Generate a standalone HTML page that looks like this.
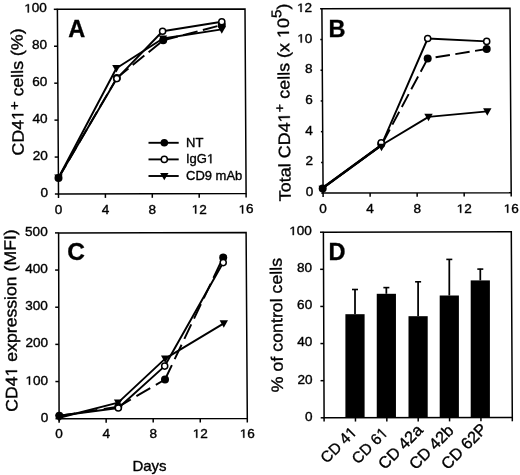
<!DOCTYPE html><html><head><meta charset="utf-8"><style>html,body{margin:0;padding:0;background:#fff;overflow:hidden;}svg{display:block;will-change:transform;}text{font-family:"Liberation Sans", sans-serif;fill:#000;stroke:#000;stroke-width:0.35px;}</style></head><body>
<svg width="520" height="475" viewBox="0 0 520 475">
<rect width="520" height="475" fill="#fff"/>
<polygon points="57.40,9.30 245.00,9.00 246.10,193.60 58.50,194.00" fill="none" stroke="#000" stroke-width="1.5" stroke-linejoin="miter"/>
<line x1="54.90" y1="194.00" x2="58.50" y2="194.00" stroke="#000" stroke-width="1.5"/>
<text transform="translate(48.00,197.10) scale(1.13,1)" text-anchor="end" font-size="12">0</text>
<line x1="54.68" y1="157.06" x2="58.28" y2="157.06" stroke="#000" stroke-width="1.5"/>
<text transform="translate(47.78,160.16) scale(1.13,1)" text-anchor="end" font-size="12">20</text>
<line x1="54.46" y1="120.12" x2="58.06" y2="120.12" stroke="#000" stroke-width="1.5"/>
<text transform="translate(47.56,123.22) scale(1.13,1)" text-anchor="end" font-size="12">40</text>
<line x1="54.24" y1="83.18" x2="57.84" y2="83.18" stroke="#000" stroke-width="1.5"/>
<text transform="translate(47.34,86.28) scale(1.13,1)" text-anchor="end" font-size="12">60</text>
<line x1="54.02" y1="46.24" x2="57.62" y2="46.24" stroke="#000" stroke-width="1.5"/>
<text transform="translate(47.12,49.34) scale(1.13,1)" text-anchor="end" font-size="12">80</text>
<line x1="53.80" y1="9.30" x2="57.40" y2="9.30" stroke="#000" stroke-width="1.5"/>
<text transform="translate(46.90,12.40) scale(1.13,1)" text-anchor="end" font-size="12">&#x2007;00</text><g transform="translate(46.90,12.40) scale(1.13,1)"><path transform="translate(-20.019,0.000) scale(0.005859,-0.005859)" d="M515,0L515,1237L197,1010L197,1180L530,1409L696,1409L696,0Z" stroke="#000" stroke-width="0.35" vector-effect="non-scaling-stroke"/></g>
<line x1="58.50" y1="194.00" x2="58.50" y2="198.00" stroke="#000" stroke-width="1.5"/>
<text transform="translate(58.50,213.80) scale(1.13,1)" text-anchor="middle" font-size="12">0</text>
<line x1="105.40" y1="193.90" x2="105.40" y2="197.90" stroke="#000" stroke-width="1.5"/>
<text transform="translate(105.40,213.70) scale(1.13,1)" text-anchor="middle" font-size="12">4</text>
<line x1="152.30" y1="193.80" x2="152.30" y2="197.80" stroke="#000" stroke-width="1.5"/>
<text transform="translate(152.30,213.60) scale(1.13,1)" text-anchor="middle" font-size="12">8</text>
<line x1="199.20" y1="193.70" x2="199.20" y2="197.70" stroke="#000" stroke-width="1.5"/>
<text transform="translate(199.20,213.50) scale(1.13,1)" text-anchor="middle" font-size="12">&#x2007;2</text><g transform="translate(199.20,213.50) scale(1.13,1)"><path transform="translate(-6.670,0.000) scale(0.005859,-0.005859)" d="M515,0L515,1237L197,1010L197,1180L530,1409L696,1409L696,0Z" stroke="#000" stroke-width="0.35" vector-effect="non-scaling-stroke"/></g>
<line x1="246.10" y1="193.60" x2="246.10" y2="197.60" stroke="#000" stroke-width="1.5"/>
<text transform="translate(246.10,213.40) scale(1.13,1)" text-anchor="middle" font-size="12">&#x2007;6</text><g transform="translate(246.10,213.40) scale(1.13,1)"><path transform="translate(-6.670,0.000) scale(0.005859,-0.005859)" d="M515,0L515,1237L197,1010L197,1180L530,1409L696,1409L696,0Z" stroke="#000" stroke-width="0.35" vector-effect="non-scaling-stroke"/></g>
<text x="68.2" y="36.6" font-size="23.5" font-weight="bold">A</text>
<text transform="translate(23.14,91.90) rotate(-90.6)" text-anchor="middle" font-size="16.5" textLength="127.0" lengthAdjust="spacingAndGlyphs">CD4&#x2007;<tspan dy="-4" font-size="14">+</tspan><tspan dy="4"> cells (%)</tspan></text><g transform="translate(23.14,91.90) rotate(-90.6)"><path transform="translate(-28.049,0.000) scale(0.008655,-0.008057)" d="M515,0L515,1237L197,1010L197,1180L530,1409L696,1409L696,0Z" stroke="#000" stroke-width="0.35" vector-effect="non-scaling-stroke"/></g>
<line x1="58.50" y1="177.90" x2="116.80" y2="78.00" stroke="#000" stroke-width="1.95" stroke-dasharray="15 5.5" stroke-dashoffset="0"/>
<line x1="116.80" y1="78.00" x2="163.20" y2="40.30" stroke="#000" stroke-width="1.95" stroke-dasharray="15 5.5" stroke-dashoffset="0"/>
<line x1="163.20" y1="40.30" x2="221.80" y2="25.00" stroke="#000" stroke-width="1.95" stroke-dasharray="15 5.5" stroke-dashoffset="0"/>
<polyline points="58.50,177.80 116.80,78.60 162.60,31.30 221.80,21.80" fill="none" stroke="#000" stroke-width="1.95" stroke-linejoin="round"/>
<polyline points="58.50,177.70 116.40,68.20 163.00,38.50 221.80,29.40" fill="none" stroke="#000" stroke-width="1.95" stroke-linejoin="round"/>
<path d="M54.30,174.59 L62.70,174.59 L58.50,181.99 Z" fill="#000"/>
<path d="M112.20,65.09 L120.60,65.09 L116.40,72.49 Z" fill="#000"/>
<path d="M158.80,35.39 L167.20,35.39 L163.00,42.79 Z" fill="#000"/>
<path d="M217.60,26.29 L226.00,26.29 L221.80,33.69 Z" fill="#000"/>
<circle cx="58.50" cy="177.90" r="4.0" fill="#000"/>
<circle cx="116.80" cy="78.00" r="4.0" fill="#000"/>
<circle cx="163.20" cy="40.30" r="4.0" fill="#000"/>
<circle cx="221.80" cy="25.00" r="4.0" fill="#000"/>
<circle cx="116.80" cy="78.60" r="3.05" fill="#fff" stroke="#000" stroke-width="1.5"/>
<circle cx="162.60" cy="31.30" r="3.05" fill="#fff" stroke="#000" stroke-width="1.5"/>
<circle cx="221.80" cy="21.80" r="3.05" fill="#fff" stroke="#000" stroke-width="1.5"/>
<line x1="148.5" y1="142.80" x2="178.7" y2="142.80" stroke="#000" stroke-width="1.9"/>
<circle cx="164.30" cy="142.80" r="3.8" fill="#000"/>
<text x="186" y="146.60" font-size="13">NT</text>
<line x1="148.5" y1="159.40" x2="178.7" y2="159.40" stroke="#000" stroke-width="1.9"/>
<circle cx="164.30" cy="159.40" r="3.05" fill="#fff" stroke="#000" stroke-width="1.5"/>
<text x="186" y="163.20" font-size="13">IgG&#x2007;</text><g><path transform="translate(206.953,163.200) scale(0.006348,-0.006348)" d="M515,0L515,1237L197,1010L197,1180L530,1409L696,1409L696,0Z" stroke="#000" stroke-width="0.35" vector-effect="non-scaling-stroke"/></g>
<line x1="148.5" y1="176.00" x2="178.7" y2="176.00" stroke="#000" stroke-width="1.9"/>
<path d="M160.10,172.89 L168.50,172.89 L164.30,180.29 Z" fill="#000"/>
<text x="186" y="179.80" font-size="13">CD9 mAb</text>
<polygon points="321.90,8.80 510.00,8.30 511.20,192.70 323.10,193.10" fill="none" stroke="#000" stroke-width="1.5" stroke-linejoin="miter"/>
<line x1="321.30" y1="193.10" x2="323.10" y2="193.10" stroke="#000" stroke-width="1.5"/>
<text transform="translate(313.30,196.20) scale(1.13,1)" text-anchor="end" font-size="12">0</text>
<line x1="321.10" y1="162.38" x2="322.90" y2="162.38" stroke="#000" stroke-width="1.5"/>
<text transform="translate(313.10,165.48) scale(1.13,1)" text-anchor="end" font-size="12">2</text>
<line x1="320.90" y1="131.67" x2="322.70" y2="131.67" stroke="#000" stroke-width="1.5"/>
<text transform="translate(312.90,134.77) scale(1.13,1)" text-anchor="end" font-size="12">4</text>
<line x1="320.70" y1="100.95" x2="322.50" y2="100.95" stroke="#000" stroke-width="1.5"/>
<text transform="translate(312.70,104.05) scale(1.13,1)" text-anchor="end" font-size="12">6</text>
<line x1="320.50" y1="70.23" x2="322.30" y2="70.23" stroke="#000" stroke-width="1.5"/>
<text transform="translate(312.50,73.33) scale(1.13,1)" text-anchor="end" font-size="12">8</text>
<line x1="320.30" y1="39.52" x2="322.10" y2="39.52" stroke="#000" stroke-width="1.5"/>
<text transform="translate(312.30,42.62) scale(1.13,1)" text-anchor="end" font-size="12">&#x2007;0</text><g transform="translate(312.30,42.62) scale(1.13,1)"><path transform="translate(-13.341,0.000) scale(0.005859,-0.005859)" d="M515,0L515,1237L197,1010L197,1180L530,1409L696,1409L696,0Z" stroke="#000" stroke-width="0.35" vector-effect="non-scaling-stroke"/></g>
<line x1="320.10" y1="8.80" x2="321.90" y2="8.80" stroke="#000" stroke-width="1.5"/>
<text transform="translate(312.10,11.90) scale(1.13,1)" text-anchor="end" font-size="12">&#x2007;2</text><g transform="translate(312.10,11.90) scale(1.13,1)"><path transform="translate(-13.341,0.000) scale(0.005859,-0.005859)" d="M515,0L515,1237L197,1010L197,1180L530,1409L696,1409L696,0Z" stroke="#000" stroke-width="0.35" vector-effect="non-scaling-stroke"/></g>
<line x1="323.10" y1="193.10" x2="323.10" y2="196.90" stroke="#000" stroke-width="1.5"/>
<text transform="translate(323.10,213.10) scale(1.13,1)" text-anchor="middle" font-size="12">0</text>
<line x1="370.12" y1="193.00" x2="370.12" y2="196.80" stroke="#000" stroke-width="1.5"/>
<text transform="translate(370.12,213.00) scale(1.13,1)" text-anchor="middle" font-size="12">4</text>
<line x1="417.15" y1="192.90" x2="417.15" y2="196.70" stroke="#000" stroke-width="1.5"/>
<text transform="translate(417.15,212.90) scale(1.13,1)" text-anchor="middle" font-size="12">8</text>
<line x1="464.17" y1="192.80" x2="464.17" y2="196.60" stroke="#000" stroke-width="1.5"/>
<text transform="translate(464.17,212.80) scale(1.13,1)" text-anchor="middle" font-size="12">&#x2007;2</text><g transform="translate(464.17,212.80) scale(1.13,1)"><path transform="translate(-6.670,0.000) scale(0.005859,-0.005859)" d="M515,0L515,1237L197,1010L197,1180L530,1409L696,1409L696,0Z" stroke="#000" stroke-width="0.35" vector-effect="non-scaling-stroke"/></g>
<line x1="511.20" y1="192.70" x2="511.20" y2="196.50" stroke="#000" stroke-width="1.5"/>
<text transform="translate(511.20,212.70) scale(1.13,1)" text-anchor="middle" font-size="12">&#x2007;6</text><g transform="translate(511.20,212.70) scale(1.13,1)"><path transform="translate(-6.670,0.000) scale(0.005859,-0.005859)" d="M515,0L515,1237L197,1010L197,1180L530,1409L696,1409L696,0Z" stroke="#000" stroke-width="0.35" vector-effect="non-scaling-stroke"/></g>
<text x="328.6" y="36.6" font-size="23.5" font-weight="bold">B</text>
<text transform="translate(289.66,102.35) rotate(-90.6)" text-anchor="middle" font-size="16.5" textLength="197.7" lengthAdjust="spacingAndGlyphs">Total CD4&#x2007;<tspan dy="-5.5" font-size="13.5">+</tspan><tspan dy="5.5"> cells (x &#x2007;0</tspan><tspan dy="-7.5" font-size="14">5</tspan><tspan dy="7.5">)</tspan></text><g transform="translate(289.66,102.35) rotate(-90.6)"><path transform="translate(-20.022,0.000) scale(0.008767,-0.008057)" d="M515,0L515,1237L197,1010L197,1180L530,1409L696,1409L696,0Z" stroke="#000" stroke-width="0.35" vector-effect="non-scaling-stroke"/><path transform="translate(64.401,0.000) scale(0.008767,-0.008057)" d="M515,0L515,1237L197,1010L197,1180L530,1409L696,1409L696,0Z" stroke="#000" stroke-width="0.35" vector-effect="non-scaling-stroke"/></g>
<polyline points="322.70,188.00 381.30,145.30" fill="none" stroke="#000" stroke-width="2.6" stroke-linejoin="round"/>
<line x1="322.70" y1="188.00" x2="381.30" y2="145.30" stroke="#000" stroke-width="1.9" stroke-dasharray="14.5 5.5" stroke-dashoffset="0"/>
<line x1="381.30" y1="145.30" x2="427.70" y2="58.60" stroke="#000" stroke-width="1.9" stroke-dasharray="14.5 5.5" stroke-dashoffset="-3.5"/>
<line x1="427.70" y1="58.60" x2="486.70" y2="48.95" stroke="#000" stroke-width="1.9" stroke-dasharray="14.5 5.5" stroke-dashoffset="12.0"/>
<polyline points="322.70,188.00 381.30,145.30 427.70,38.50 486.70,41.40" fill="none" stroke="#000" stroke-width="1.9" stroke-linejoin="round"/>
<polyline points="322.70,188.00 381.30,145.30 428.50,116.90 487.30,111.40" fill="none" stroke="#000" stroke-width="1.9" stroke-linejoin="round"/>
<circle cx="322.70" cy="188.60" r="4.0" fill="#000"/>
<circle cx="381.30" cy="144.00" r="4.0" fill="#000"/>
<circle cx="427.70" cy="58.60" r="4.0" fill="#000"/>
<circle cx="486.70" cy="48.95" r="4.0" fill="#000"/>
<circle cx="381.20" cy="142.70" r="3.05" fill="#fff" stroke="#000" stroke-width="1.5"/>
<circle cx="427.70" cy="38.50" r="3.05" fill="#fff" stroke="#000" stroke-width="1.5"/>
<circle cx="486.70" cy="41.40" r="3.05" fill="#fff" stroke="#000" stroke-width="1.5"/>
<path d="M318.50,185.79 L326.90,185.79 L322.70,193.19 Z" fill="#000"/>
<path d="M377.30,143.79 L385.70,143.79 L381.50,151.19 Z" fill="#000"/>
<path d="M424.30,113.79 L432.70,113.79 L428.50,121.19 Z" fill="#000"/>
<path d="M483.10,108.29 L491.50,108.29 L487.30,115.69 Z" fill="#000"/>
<polygon points="58.60,232.90 246.10,232.40 247.30,418.50 59.10,418.70" fill="none" stroke="#000" stroke-width="1.5" stroke-linejoin="miter"/>
<line x1="55.50" y1="418.70" x2="59.10" y2="418.70" stroke="#000" stroke-width="1.5"/>
<text transform="translate(48.20,421.80) scale(1.13,1)" text-anchor="end" font-size="12">0</text>
<line x1="55.40" y1="381.54" x2="59.00" y2="381.54" stroke="#000" stroke-width="1.5"/>
<text transform="translate(48.10,384.64) scale(1.13,1)" text-anchor="end" font-size="12">&#x2007;00</text><g transform="translate(48.10,384.64) scale(1.13,1)"><path transform="translate(-20.019,0.000) scale(0.005859,-0.005859)" d="M515,0L515,1237L197,1010L197,1180L530,1409L696,1409L696,0Z" stroke="#000" stroke-width="0.35" vector-effect="non-scaling-stroke"/></g>
<line x1="55.30" y1="344.38" x2="58.90" y2="344.38" stroke="#000" stroke-width="1.5"/>
<text transform="translate(48.00,347.48) scale(1.13,1)" text-anchor="end" font-size="12">200</text>
<line x1="55.20" y1="307.22" x2="58.80" y2="307.22" stroke="#000" stroke-width="1.5"/>
<text transform="translate(47.90,310.32) scale(1.13,1)" text-anchor="end" font-size="12">300</text>
<line x1="55.10" y1="270.06" x2="58.70" y2="270.06" stroke="#000" stroke-width="1.5"/>
<text transform="translate(47.80,273.16) scale(1.13,1)" text-anchor="end" font-size="12">400</text>
<line x1="55.00" y1="232.90" x2="58.60" y2="232.90" stroke="#000" stroke-width="1.5"/>
<text transform="translate(47.70,236.00) scale(1.13,1)" text-anchor="end" font-size="12">500</text>
<line x1="59.10" y1="418.70" x2="59.10" y2="422.70" stroke="#000" stroke-width="1.5"/>
<text transform="translate(59.10,437.90) scale(1.13,1)" text-anchor="middle" font-size="12">0</text>
<line x1="106.15" y1="418.65" x2="106.15" y2="422.65" stroke="#000" stroke-width="1.5"/>
<text transform="translate(106.15,437.85) scale(1.13,1)" text-anchor="middle" font-size="12">4</text>
<line x1="153.20" y1="418.60" x2="153.20" y2="422.60" stroke="#000" stroke-width="1.5"/>
<text transform="translate(153.20,437.80) scale(1.13,1)" text-anchor="middle" font-size="12">8</text>
<line x1="200.25" y1="418.55" x2="200.25" y2="422.55" stroke="#000" stroke-width="1.5"/>
<text transform="translate(200.25,437.75) scale(1.13,1)" text-anchor="middle" font-size="12">&#x2007;2</text><g transform="translate(200.25,437.75) scale(1.13,1)"><path transform="translate(-6.670,0.000) scale(0.005859,-0.005859)" d="M515,0L515,1237L197,1010L197,1180L530,1409L696,1409L696,0Z" stroke="#000" stroke-width="0.35" vector-effect="non-scaling-stroke"/></g>
<line x1="247.30" y1="418.50" x2="247.30" y2="422.50" stroke="#000" stroke-width="1.5"/>
<text transform="translate(247.30,437.70) scale(1.13,1)" text-anchor="middle" font-size="12">&#x2007;6</text><g transform="translate(247.30,437.70) scale(1.13,1)"><path transform="translate(-6.670,0.000) scale(0.005859,-0.005859)" d="M515,0L515,1237L197,1010L197,1180L530,1409L696,1409L696,0Z" stroke="#000" stroke-width="0.35" vector-effect="non-scaling-stroke"/></g>
<text x="67.2" y="259.8" font-size="24.5" font-weight="bold">C</text>
<text transform="translate(16.54,320.50) rotate(-90.6)" text-anchor="middle" font-size="16.5" textLength="182.4" lengthAdjust="spacingAndGlyphs">CD4&#x2007; expression (MFI)</text><g transform="translate(16.54,320.50) rotate(-90.6)"><path transform="translate(-55.906,0.000) scale(0.008617,-0.008057)" d="M515,0L515,1237L197,1010L197,1180L530,1409L696,1409L696,0Z" stroke="#000" stroke-width="0.35" vector-effect="non-scaling-stroke"/></g>
<line x1="59.30" y1="415.80" x2="118.30" y2="406.80" stroke="#000" stroke-width="1.95" stroke-dasharray="16 6.5" stroke-dashoffset="0"/>
<line x1="118.30" y1="406.80" x2="165.00" y2="379.50" stroke="#000" stroke-width="1.95" stroke-dasharray="16 6.5" stroke-dashoffset="1.5"/>
<line x1="165.00" y1="379.50" x2="223.20" y2="257.40" stroke="#000" stroke-width="1.95" stroke-dasharray="16 6.5" stroke-dashoffset="0"/>
<polyline points="59.30,415.80 118.30,408.00 164.70,366.10 223.20,262.60" fill="none" stroke="#000" stroke-width="1.95" stroke-linejoin="round"/>
<polyline points="59.30,417.80 118.10,402.60 165.20,358.60 223.80,323.40" fill="none" stroke="#000" stroke-width="1.95" stroke-linejoin="round"/>
<path d="M55.10,414.69 L63.50,414.69 L59.30,422.09 Z" fill="#000"/>
<path d="M113.90,399.49 L122.30,399.49 L118.10,406.89 Z" fill="#000"/>
<path d="M161.00,355.49 L169.40,355.49 L165.20,362.89 Z" fill="#000"/>
<path d="M219.60,320.29 L228.00,320.29 L223.80,327.69 Z" fill="#000"/>
<circle cx="59.30" cy="415.80" r="4.0" fill="#000"/>
<circle cx="118.30" cy="406.80" r="4.0" fill="#000"/>
<circle cx="165.00" cy="379.50" r="4.0" fill="#000"/>
<circle cx="223.20" cy="257.40" r="4.0" fill="#000"/>
<circle cx="118.30" cy="408.00" r="3.05" fill="#fff" stroke="#000" stroke-width="1.5"/>
<circle cx="164.70" cy="366.10" r="3.05" fill="#fff" stroke="#000" stroke-width="1.5"/>
<circle cx="223.20" cy="262.60" r="3.05" fill="#fff" stroke="#000" stroke-width="1.5"/>
<text x="149.5" y="470.8" text-anchor="middle" font-size="15">Days</text>
<polygon points="323.40,232.20 511.30,231.70 512.30,417.50 324.10,417.80" fill="none" stroke="#000" stroke-width="1.5" stroke-linejoin="miter"/>
<line x1="320.70" y1="417.80" x2="324.10" y2="417.80" stroke="#000" stroke-width="1.5"/>
<text transform="translate(312.60,420.70) scale(1.13,1)" text-anchor="end" font-size="12">0</text>
<line x1="320.56" y1="380.68" x2="323.96" y2="380.68" stroke="#000" stroke-width="1.5"/>
<text transform="translate(312.46,383.58) scale(1.13,1)" text-anchor="end" font-size="12">20</text>
<line x1="320.42" y1="343.56" x2="323.82" y2="343.56" stroke="#000" stroke-width="1.5"/>
<text transform="translate(312.32,346.46) scale(1.13,1)" text-anchor="end" font-size="12">40</text>
<line x1="320.28" y1="306.44" x2="323.68" y2="306.44" stroke="#000" stroke-width="1.5"/>
<text transform="translate(312.18,309.34) scale(1.13,1)" text-anchor="end" font-size="12">60</text>
<line x1="320.14" y1="269.32" x2="323.54" y2="269.32" stroke="#000" stroke-width="1.5"/>
<text transform="translate(312.04,272.22) scale(1.13,1)" text-anchor="end" font-size="12">80</text>
<line x1="320.00" y1="232.20" x2="323.40" y2="232.20" stroke="#000" stroke-width="1.5"/>
<text transform="translate(311.90,235.10) scale(1.13,1)" text-anchor="end" font-size="12">&#x2007;00</text><g transform="translate(311.90,235.10) scale(1.13,1)"><path transform="translate(-20.019,0.000) scale(0.005859,-0.005859)" d="M515,0L515,1237L197,1010L197,1180L530,1409L696,1409L696,0Z" stroke="#000" stroke-width="0.35" vector-effect="non-scaling-stroke"/></g>
<line x1="324.10" y1="417.80" x2="324.10" y2="421.60" stroke="#000" stroke-width="1.5"/>
<line x1="355.47" y1="417.75" x2="355.47" y2="421.55" stroke="#000" stroke-width="1.5"/>
<line x1="386.83" y1="417.70" x2="386.83" y2="421.50" stroke="#000" stroke-width="1.5"/>
<line x1="418.20" y1="417.65" x2="418.20" y2="421.45" stroke="#000" stroke-width="1.5"/>
<line x1="449.57" y1="417.60" x2="449.57" y2="421.40" stroke="#000" stroke-width="1.5"/>
<line x1="480.93" y1="417.55" x2="480.93" y2="421.35" stroke="#000" stroke-width="1.5"/>
<line x1="512.30" y1="417.50" x2="512.30" y2="421.30" stroke="#000" stroke-width="1.5"/>
<text x="328.6" y="259.6" font-size="23.5" font-weight="bold">D</text>
<text transform="translate(282.30,325.05) rotate(-90.6)" text-anchor="middle" font-size="16.5" textLength="134.3" lengthAdjust="spacingAndGlyphs">% of control cells</text>
<line x1="355.00" y1="314.20" x2="355.00" y2="289.20" stroke="#000" stroke-width="1.75"/>
<line x1="352.00" y1="289.50" x2="358.00" y2="289.50" stroke="#000" stroke-width="1.6"/>
<rect x="345.40" y="314.20" width="19.2" height="103.55" fill="#000"/>
<text transform="translate(357.70,433.20) rotate(-45)" text-anchor="end" font-size="15.4">CD 4&#x2007;</text><g transform="translate(357.70,433.20) rotate(-45)"><path transform="translate(-8.562,0.000) scale(0.007520,-0.007520)" d="M515,0L515,1237L197,1010L197,1180L530,1409L696,1409L696,0Z" stroke="#000" stroke-width="0.35" vector-effect="non-scaling-stroke"/></g>
<line x1="386.35" y1="293.80" x2="386.35" y2="287.30" stroke="#000" stroke-width="1.75"/>
<line x1="383.35" y1="287.60" x2="389.35" y2="287.60" stroke="#000" stroke-width="1.6"/>
<rect x="376.75" y="293.80" width="19.2" height="123.90" fill="#000"/>
<text transform="translate(388.85,433.80) rotate(-45)" text-anchor="end" font-size="15.4">CD 6&#x2007;</text><g transform="translate(388.85,433.80) rotate(-45)"><path transform="translate(-8.562,0.000) scale(0.007520,-0.007520)" d="M515,0L515,1237L197,1010L197,1180L530,1409L696,1409L696,0Z" stroke="#000" stroke-width="0.35" vector-effect="non-scaling-stroke"/></g>
<line x1="418.10" y1="316.20" x2="418.10" y2="281.50" stroke="#000" stroke-width="1.75"/>
<line x1="415.10" y1="281.80" x2="421.10" y2="281.80" stroke="#000" stroke-width="1.6"/>
<rect x="408.50" y="316.20" width="19.2" height="101.45" fill="#000"/>
<text transform="translate(423.90,431.20) rotate(-45)" text-anchor="end" font-size="16.3">CD 42a</text>
<line x1="449.30" y1="295.50" x2="449.30" y2="259.10" stroke="#000" stroke-width="1.75"/>
<line x1="446.30" y1="259.40" x2="452.30" y2="259.40" stroke="#000" stroke-width="1.6"/>
<rect x="439.70" y="295.50" width="19.2" height="122.10" fill="#000"/>
<text transform="translate(454.70,431.50) rotate(-45)" text-anchor="end" font-size="16.3">CD 42b</text>
<line x1="480.30" y1="280.40" x2="480.30" y2="268.80" stroke="#000" stroke-width="1.75"/>
<line x1="477.30" y1="269.10" x2="483.30" y2="269.10" stroke="#000" stroke-width="1.6"/>
<rect x="470.70" y="280.40" width="19.2" height="137.15" fill="#000"/>
<text transform="translate(488.00,430.10) rotate(-45)" text-anchor="end" font-size="16.3">CD 62P</text>
</svg></body></html>
